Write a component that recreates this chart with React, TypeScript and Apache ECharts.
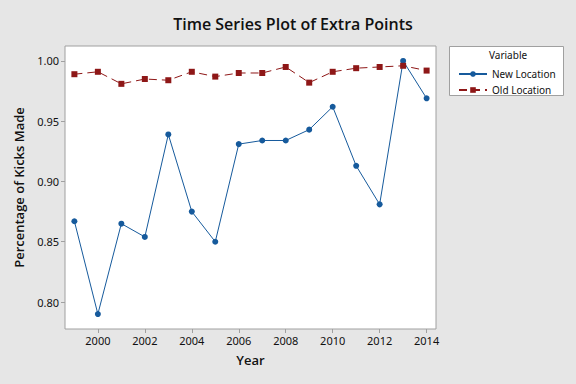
import React, { useEffect, useRef } from "react";
import * as echarts from "echarts";

const years = [1999, 2000, 2001, 2002, 2003, 2004, 2005, 2006, 2007, 2008, 2009, 2010, 2011, 2012, 2013, 2014];
const newLocation = [0.867, 0.790, 0.865, 0.854, 0.939, 0.875, 0.850, 0.931, 0.934, 0.934, 0.943, 0.962, 0.913, 0.881, 1.000, 0.969];
const oldLocation = [0.989, 0.991, 0.981, 0.985, 0.984, 0.991, 0.987, 0.990, 0.990, 0.995, 0.982, 0.991, 0.994, 0.995, 0.996, 0.992];
const xTicks = [2000, 2002, 2004, 2006, 2008, 2010, 2012, 2014];
const yTicks = [0.8, 0.85, 0.9, 0.95, 1.0];

const FONT = "'Noto Sans', 'Open Sans', sans-serif";
const BLUE = "#165a9c";
const RED = "#8e1717";

export default function App() {
  const ref = useRef<HTMLDivElement>(null);
  useEffect(() => {
    if (!ref.current) return;
    const chart = echarts.init(ref.current, null, { renderer: "svg" });
    chart.setOption({
      animation: false,
      backgroundColor: "#e6e6e6",
      textStyle: { fontFamily: FONT },
      title: {
        text: "Time Series Plot of Extra Points",
        left: 288,
        textAlign: "center",
        top: 11,
        textStyle: { fontFamily: "'Open Sans', sans-serif", fontSize: 16, fontWeight: 600, color: "#111" },
      },
      grid: {
        left: 65,
        right: 140,
        top: 46,
        bottom: 55,
        show: true,
        backgroundColor: "#ffffff",
        borderColor: "#a0a0a0",
        borderWidth: 1,
      },
      xAxis: {
        type: "value",
        min: 1998.6,
        max: 2014.4,
        name: "Year",
        nameLocation: "middle",
        nameGap: 24,
        nameTextStyle: { fontFamily: "'Open Sans', sans-serif", fontSize: 13, fontWeight: 600, color: "#111" },
        axisLine: { show: false },
        splitLine: { show: false },
        axisTick: { show: true, length: 4, lineStyle: { color: "#a0a0a0" }, customValues: xTicks },
        axisLabel: { fontFamily: FONT, fontSize: 11, color: "#111", margin: 6, customValues: xTicks, formatter: (v: number) => String(v) },
      },
      yAxis: {
        type: "value",
        min: 0.7776,
        max: 1.0124,
        name: "Percentage of Kicks Made",
        nameLocation: "middle",
        nameGap: 40,
        nameTextStyle: { fontFamily: "'Open Sans', sans-serif", fontSize: 13, fontWeight: 600, color: "#111" },
        axisLine: { show: false },
        splitLine: { show: false },
        axisTick: { show: true, length: 4, lineStyle: { color: "#a0a0a0" }, customValues: yTicks },
        axisLabel: { fontFamily: FONT, fontSize: 11, color: "#111", margin: 6, customValues: yTicks, formatter: (v: number) => v.toFixed(2) },
      },
      legend: {
        orient: "vertical",
        left: 453,
        top: 64,
        itemWidth: 28,
        itemHeight: 7,
        itemGap: 6,
        textStyle: { fontFamily: FONT, fontSize: 10, color: "#111" },
        data: ["New Location", "Old Location"],
      },
      graphic: [
        {
          type: "rect",
          shape: { x: 449.5, y: 46.5, width: 114, height: 49 },
          style: { fill: "#ffffff", stroke: "#a0a0a0", lineWidth: 1 },
          z: -1,
        },
        {
          type: "text",
          x: 489,
          y: 50,
          style: { text: "Variable", fontFamily: FONT, fontSize: 10, fill: "#111" },
        },
      ],
      series: [
        {
          name: "New Location",
          type: "line",
          data: years.map((y, i) => [y, newLocation[i]]),
          symbol: "circle",
          symbolSize: 6,
          itemStyle: { color: BLUE },
          lineStyle: { color: BLUE, width: 1 },
        },
        {
          name: "Old Location",
          type: "line",
          data: years.map((y, i) => [y, oldLocation[i]]),
          symbol: "rect",
          symbolSize: 6,
          itemStyle: { color: RED },
          lineStyle: { color: RED, width: 1, type: [8, 5] },
        },
      ],
    });
    return () => chart.dispose();
  }, []);
  return <div ref={ref} style={{ position: "fixed", left: 0, top: 0, width: 576, height: 384 }} />;
}
